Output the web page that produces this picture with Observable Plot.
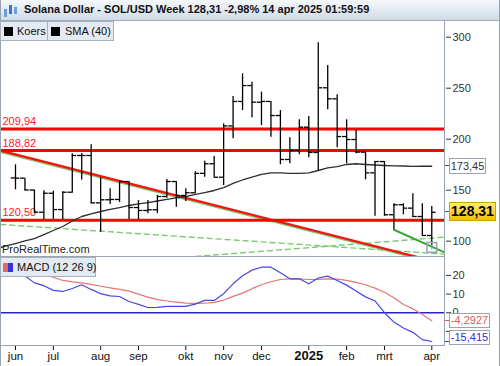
<!DOCTYPE html>
<html><head><meta charset="utf-8">
<script src="https://cdn.jsdelivr.net/npm/d3@7"></script>
<script src="https://cdn.jsdelivr.net/npm/@observablehq/plot@0.6"></script>
<style>
body{margin:0;background:#fff;font-family:"Liberation Sans",Arial,sans-serif;}
#wrap{position:relative;width:500px;height:366px;overflow:hidden;background:#fff;}
#hdr{position:absolute;left:0;top:0;width:499px;height:20px;background:linear-gradient(#f5f8fb,#cfdbe6);border-bottom:1px solid #9eabb7;border-right:1px solid #9eabb7;}
#title{position:absolute;left:24px;top:3px;font-weight:bold;font-size:11px;color:#111;white-space:nowrap;}
#main,#macd{position:absolute;left:0;}
#main{top:21px;} #macd{top:257px;}
.leg{position:absolute;height:18px;background:#e3eaf1;border:1px solid #a7b2bc;font-size:11px;color:#111;line-height:18px;white-space:nowrap;}
.sq{position:absolute;left:3px;top:5px;width:9px;height:9px;background:#000;}
.hl{position:absolute;background:#98a4b0;}
.vbox{position:absolute;border:1px solid #9aa4ae;background:#fff;font-size:11px;text-align:center;white-space:nowrap;}
</style></head><body><div id="wrap">
<div id="hdr"><svg width="16" height="16" style="position:absolute;left:3px;top:3px">
<rect x="1" y="6" width="3" height="8" fill="#6a9fd8"/><rect x="6" y="2" width="3" height="9" fill="#3b76c4"/><rect x="11" y="4" width="3" height="7" fill="#6a9fd8"/></svg>
<span id="title">Solana Dollar - SOL/USD Week 128,31 -2,98% 14 apr 2025 01:59:59</span></div>
<div id="main"></div><div id="macd"></div>
</div>
<script>
// ---- data ----
const firstWeek = "2024-06-03";
const opens  = [162,161.8,150.2,128.4,147,131,148,184,184,137.6,140.6,140.9,158.5,133,130.1,130.8,143.8,158.5,144.8,147.5,166.5,175.9,162.7,213,237,252.6,236.3,237,223.2,180.1,189,211.8,187,250.4,239.6,202.6,199.7,187.3,167,178.1,125.9,135.7,132.4,124.2,105.6];
const highs  = [174.9,161.8,150.2,149.5,149,148.5,185.7,186,194.5,162.2,151.4,159.5,158.5,140,139.9,145,160.5,158.5,151.4,168,178.4,183,215.1,241.9,264.1,255.9,246.1,237,228.1,201.4,219,222.3,294.5,272.3,243.5,219,209.2,187.3,178.1,178.1,136.7,136.7,146.5,136.7,134];
const lows   = [150.4,149.5,127.5,121,121.5,121,147,160,136.7,108.8,136,138,121.3,121,126.9,126.9,142,133.3,138.9,146.5,162.7,162.7,154.6,200.4,228.1,221,213.4,202,174.9,175.9,184.7,181.8,169.3,228.8,191.6,175.9,185.7,160.2,124.5,124.5,111.2,125.9,123.5,105,95.5];
const closes = [161.8,150.2,128.4,147,131,148,184,184,137.6,140.6,140.9,158.5,133,130.1,130.8,143.8,158.5,144.8,147.5,166.5,175.9,162.7,213,237,252.6,236.3,237,223.2,180.1,189,211.8,187,250.4,239.6,202.6,199.7,187.3,167,178.1,125.9,135.7,132.4,124.2,105.6,128.31];
// SMA(40), starting two weeks before firstWeek
const sma40 = [92.6,95.3,97.7,100.2,102.6,106.5,110.5,114.4,119.8,124.2,126.7,129.1,131.1,133,135,136.5,137.9,139.4,140.9,142.4,143.8,145.8,147.7,149.7,152.6,156.6,160,162.9,165.4,166.9,166.9,166.4,166.4,166.9,169.3,171.8,173.2,175.2,175.9,175.2,174.7,174.2,173.9,173.7,173.4,173.45,173.45];
const macdLine = [23.5,19.7,16,14.5,12,11.4,13,15,12.5,10.2,9,8.7,6,4.5,2.8,2.9,3.4,3.4,3.4,4.6,6.6,6.6,10.2,15.5,19.8,22.8,24.4,24.4,21.4,18.2,18.2,15.5,18.6,19.6,17.3,14.8,11.7,8.5,6.3,0,-5,-8.2,-10.5,-14.4,-15.415];
const signalLine = [26,24,22,20.2,19,17.3,16.5,16,15.2,14.2,13.3,12.5,11.6,10,8.4,7,6.3,5.7,5.2,5,5.1,5.6,6.8,8.8,10.5,12.9,15,16.6,17.8,18.2,18.1,17.8,17.9,18.2,18,17.3,16.3,15,13.2,11,8,4.4,2.2,-1,-4.2927];
const levels = [209.94, 188.82, 120.50];
const levelLabels = ["209,94", "188,82", "120,50"];
const redTrend = [["2024-05-23", 188.8], ["2025-04-17", 77.5]];
const greenDashA = [["2024-05-23", 116.4], ["2025-04-17", 87.3]];
const greenDashB = [["2024-10-01", 83.7], ["2025-04-17", 104.0]];
const greenSolid = [["2025-03-10", 111.2], ["2025-04-16", 89.3]];
const priceTicks = [100, 150, 200, 250, 300];
const macdTicks = [-10, 0, 10, 20];
const macdTickLabels = ["", "0", "10", "20"];
const monthDates = ["2024-06-03","2024-07-01","2024-08-05","2024-09-02","2024-10-07","2024-11-04","2024-12-02","2025-01-06","2025-02-03","2025-03-03","2025-04-07"];
const monthLabels = ["jun","jul","aug","sep","okt","nov","dec","2025","feb","mrt","apr"];
const lastSma = 173.45, lastClose = 128.31, lastMacd = -15.415, lastSignal = -4.2927;

// ---- build ----
const DAY = 864e5;
const t0 = new Date(firstWeek + "T00:00:00Z");
const weekDate = i => new Date(+t0 + i * 7 * DAY);
const bars = closes.map((c, i) => ({date: weekDate(i), open: opens[i], high: highs[i], low: lows[i], close: c}));
const smaData = sma40.map((v, i) => ({date: weekDate(i - 2), v}));
const macdData = macdLine.map((v, i) => ({date: weekDate(i), m: v, s: signalLine[i]}));
const toPts = a => a.map(([d, v]) => ({date: new Date(d + "T00:00:00Z"), v}));
const xDomain = [new Date(+t0 - 1.585 * 7 * DAY), new Date(+t0 + 45.45 * 7 * DAY)];
const half = 3.2 * DAY;
const font = {fontFamily: "'Liberation Sans', Arial, sans-serif", fontSize: "11px", background: "transparent", overflow: "visible"};

const main = Plot.plot({
  width: 500, height: 236, marginLeft: 0, marginRight: 55, marginTop: 0, marginBottom: 0,
  style: font,
  x: {type: "utc", domain: xDomain, axis: null},
  y: {domain: [84.0, 315.4], axis: null},
  marks: [
    Plot.axisY(priceTicks, {anchor: "right", tickSize: 5, tickPadding: 2, fontSize: 11, color: "#333"}),
    Plot.line(toPts(greenDashA), {x: "date", y: "v", stroke: "#7acb6e", strokeWidth: 1.4, strokeDasharray: "5,4", clip: true}),
    Plot.line(toPts(greenDashB), {x: "date", y: "v", stroke: "#7acb6e", strokeWidth: 1.4, strokeDasharray: "5,4", clip: true}),
    Plot.line(toPts(redTrend), {x: "date", y: "v", stroke: "#79c46c", strokeWidth: 2.6, dy: 1, clip: true}),
    Plot.line(toPts(redTrend), {x: "date", y: "v", stroke: "#ff1010", strokeWidth: 2.2, clip: true}),
    Plot.line(toPts(greenSolid), {x: "date", y: "v", stroke: "#3aa935", strokeWidth: 2, clip: true}),
    Plot.ruleY(levels, {stroke: "#ff0000", strokeWidth: 3}),
    Plot.text(levels, {y: d => d, text: (d, i) => levelLabels[i], frameAnchor: "left", textAnchor: "start", dx: 2, dy: -7.5, fill: "#ff1a1a", fontSize: 11}),
    Plot.line(smaData, {x: "date", y: "v", stroke: "#2e2e2e", strokeWidth: 1.3, clip: true}),
    Plot.ruleX(bars, {x: "date", y1: "low", y2: "high", stroke: "#000", strokeWidth: 1.3}),
    Plot.ruleY(bars, {x1: d => new Date(+d.date - half), x2: "date", y: "open", stroke: "#000", strokeWidth: 1.3}),
    Plot.ruleY(bars, {x1: "date", x2: d => new Date(+d.date + half), y: "close", stroke: "#000", strokeWidth: 1.3}),
    Plot.dot([bars[bars.length - 1]], {x: "date", y: 94, symbol: "square", r: 5.5, stroke: "#9aa4ae", fill: "none"}),
    Plot.text([bars[bars.length - 1]], {x: "date", y: 94, text: () => "I", fill: "#8a949e", fontSize: 9})
  ]
});

const labelFor = new Map(monthDates.map((d, i) => [+new Date(d + "T00:00:00Z"), monthLabels[i]]));
const regDates = monthDates.filter((d, i) => monthLabels[i] !== "2025").map(d => new Date(d + "T00:00:00Z"));
const yearDates = monthDates.filter((d, i) => monthLabels[i] === "2025").map(d => new Date(d + "T00:00:00Z"));
const macdLabelFor = new Map(macdTicks.map((v, i) => [v, macdTickLabels[i]]));

const macd = Plot.plot({
  width: 500, height: 109, marginLeft: 0, marginRight: 55, marginTop: 0, marginBottom: 21,
  style: font,
  x: {type: "utc", domain: xDomain, axis: null},
  y: {domain: [-17.55, 29.6], axis: null},
  marks: [
    Plot.axisY(macdTicks, {anchor: "right", tickSize: 5, tickPadding: 2, fontSize: 11, color: "#333", tickFormat: v => macdLabelFor.get(v)}),
    Plot.axisX(regDates, {anchor: "bottom", tickSize: 5, tickPadding: 1.5, fontSize: 11.5, color: "#111", tickFormat: d => labelFor.get(+d)}),
    Plot.axisX(yearDates, {anchor: "bottom", tickSize: 5, tickPadding: 0.5, fontSize: 13, fontWeight: "bold", color: "#111", tickFormat: d => labelFor.get(+d)}),
    Plot.ruleY([0], {stroke: "#2323c8", strokeWidth: 1.3}),
    Plot.line(macdData, {x: "date", y: "s", stroke: "#e87474", strokeWidth: 1.2}),
    Plot.line(macdData, {x: "date", y: "m", stroke: "#4646e6", strokeWidth: 1.2})
  ]
});

document.getElementById("main").appendChild(main);
document.getElementById("macd").appendChild(macd);

// ---- chrome overlays ----
const wrap = document.getElementById("wrap");
function el(cls, css, html) { const e = document.createElement("div"); e.className = cls; Object.assign(e.style, css); if (html != null) e.innerHTML = html; wrap.appendChild(e); return e; }
el("hl", {left: "444px", top: "21px", width: "1px", height: "325px"});
el("hl", {left: "0px", top: "256px", width: "445px", height: "1px"});
el("hl", {left: "0px", top: "345px", width: "445px", height: "1px"});
el("hl", {left: "499px", top: "0px", width: "1px", height: "366px"});
el("hl", {left: "0px", top: "0px", width: "1px", height: "366px"});
// legends
const k = el("leg", {left: "0px", top: "21px", width: "46px"}, '<span style="position:absolute;left:16px">Koers</span>');
el("sq", {}, null); k.appendChild(wrap.lastChild);
const s = el("leg", {left: "47px", top: "21px", width: "65px"}, '<span style="position:absolute;left:17px">SMA (40)</span>');
el("sq", {}, null); s.appendChild(wrap.lastChild);
const m = el("leg", {left: "0px", top: "257px", width: "94px"}, '<span style="position:absolute;left:16px">MACD (12 26 9)</span>');
el("", {position: "absolute", left: "2px", top: "5px", width: "5px", height: "9px", background: "#e06a6a"}); m.appendChild(wrap.lastChild);
el("", {position: "absolute", left: "7px", top: "5px", width: "5px", height: "9px", background: "#3434dd"}); m.appendChild(wrap.lastChild);
el("", {left: "2px", top: "243px", position: "absolute", fontSize: "11px", color: "#222"}, "ProRealTime.com");

// value boxes positioned via the plots' own scales
const ysMain = main.scale("y"), ysMacd = macd.scale("y");
const fmt = v => String(v).replace(".", ",");
function vbox(top, y, v, css) {
  const yy = top + y;
  el("hl", {left: "445px", top: (top + y - 0.5) + "px", width: "5px", height: "1px", background: css.tick || "#555"});
  const h = css.h || 14;
  let t = yy - h / 2 - 1;
  if (css.maxBottom) t = Math.min(t, css.maxBottom - h - 2);
  el("vbox", Object.assign({left: "449px", top: t + "px", width: css.w + "px", height: h + "px", lineHeight: h + "px", color: css.color}, css.extra || {}), fmt(v));
}
vbox(21, ysMain.apply(lastSma), lastSma, {w: 35, color: "#333", h: 14});
vbox(21, ysMain.apply(lastClose), lastClose, {w: 45, color: "#000", h: 17, extra: {fontWeight: "bold", fontSize: "14px", background: "linear-gradient(#ffe97a,#f2c200)", border: "1px solid #c9a300"}});
vbox(257, ysMacd.apply(lastSignal), lastSignal, {w: 39, color: "#e05a5a", h: 13, tick: "#e05a5a"});
vbox(257, ysMacd.apply(lastMacd), lastMacd, {w: 39, color: "#3030d8", h: 13, tick: "#3030d8", maxBottom: 345});
</script></body></html>
